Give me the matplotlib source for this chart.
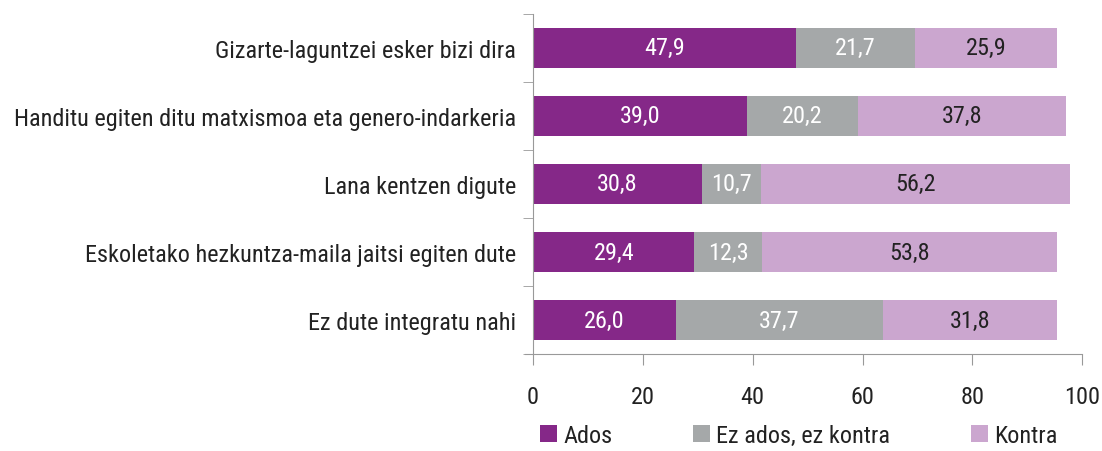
import matplotlib
matplotlib.use("Agg")
import matplotlib.pyplot as plt
from matplotlib import font_manager
import numpy as np

names = {f.name for f in font_manager.fontManager.ttflist}
fam = [f for f in ["Liberation Sans Narrow", "Roboto Condensed", "Liberation Sans", "DejaVu Sans"] if f in names]
plt.rcParams['font.family'] = fam

categories = [
    "Gizarte-laguntzei esker bizi dira",
    "Handitu egiten ditu matxismoa eta genero-indarkeria",
    "Lana kentzen digute",
    "Eskoletako hezkuntza-maila jaitsi egiten dute",
    "Ez dute integratu nahi",
]
ados = [47.9, 39.0, 30.8, 29.4, 26.0]
neutral = [21.7, 20.2, 10.7, 12.3, 37.7]
kontra = [25.9, 37.8, 56.2, 53.8, 31.8]
series_names = ["Ados", "Ez ados, ez kontra", "Kontra"]
colors = ["#852888", "#A5A8A9", "#CBA6CF"]
text_colors = ["white", "white", "#222222"]

fig = plt.figure(figsize=(11.02, 4.52), dpi=100)
ax = fig.add_axes([0.4837, 0.2146, 0.982 - 0.4837, 0.967 - 0.2146])

y = np.arange(len(categories))
left = np.zeros(len(categories))
for vals, name, c, tc in zip([ados, neutral, kontra], series_names, colors, text_colors):
    vals = np.array(vals)
    ax.barh(y, vals, left=left, height=0.6, color=c, label=name)
    for yi, l, v in zip(y, left, vals):
        ax.text(l + v / 2, yi, f"{v:.1f}".replace(".", ","), ha="center", va="center",
                color=tc, fontsize=17.5)
    left += vals

ax.set_ylim(len(categories) - 0.5, -0.5)
ax.set_xlim(0, 100)
ax.set_yticks(y)
ax.set_yticklabels(categories, fontsize=17.5, color="#222222")
ax.set_yticks(np.arange(-0.5, len(categories)), minor=True)
ax.tick_params(axis="y", which="major", length=0, pad=12)
ax.tick_params(axis="y", which="minor", length=7, color="#999999")
ax.set_xticks([0, 20, 40, 60, 80, 100])
ax.tick_params(axis="x", length=8, color="#999999", labelsize=17.5, labelcolor="#222222", pad=14)
for s in ["top", "right"]:
    ax.spines[s].set_visible(False)
ax.spines["left"].set_color("#999999")
ax.spines["bottom"].set_color("#999999")
ax.spines["bottom"].set_bounds(-1.5, 100)
ax.spines["bottom"].set_position(("data", len(categories) - 0.5))

handles, labels = ax.get_legend_handles_labels()
fig.legend(handles, labels, loc="lower left", bbox_to_anchor=(0.470, -0.040), ncol=3,
           frameon=False, fontsize=17.5, handlelength=0.72, handleheight=0.72,
           handletextpad=0.25, columnspacing=3.3, labelcolor="#222222")

fig.savefig("out.png", dpi=100)
